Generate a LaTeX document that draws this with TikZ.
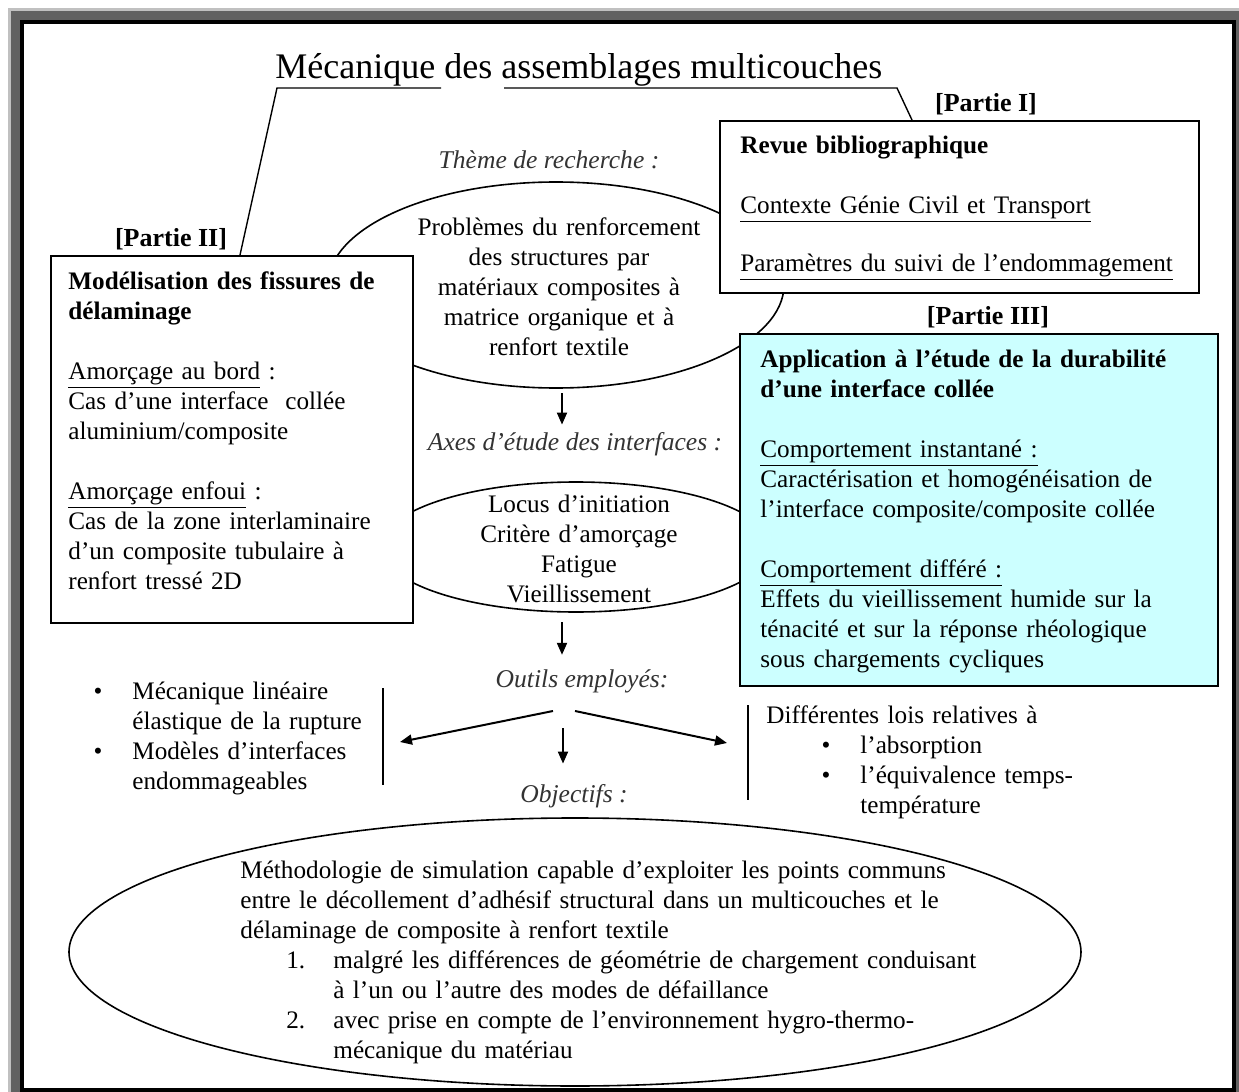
\documentclass[tikz,border=0pt]{standalone}
\usepackage{fontspec}
\setmainfont{Liberation Serif}
\usepackage{tikz}
\usetikzlibrary{positioning,shapes,arrows.meta,calc}
\definecolor{lightcyan}{RGB}{204,255,255}
\definecolor{cadregris}{RGB}{97,97,97}
\definecolor{cadreclair}{RGB}{192,192,192}
\tikzstyle{boite}=[%
      rectangle, draw=black, line width=1pt, fill=white, anchor=north west, inner sep=0pt
]
\tikzstyle{bulle}=[%
      ellipse, draw=black, line width=0.8pt, inner sep=0pt
]
\tikzstyle{bloc}=[%
      inner sep=0pt, anchor=base west, align=left, text width=250pt,
      font=\fontsize{12.6}{15}\selectfont
]
\tikzstyle{centre}=[%
      inner sep=0pt, anchor=base, align=center, text width=250pt,
      font=\fontsize{12.6}{15}\selectfont
]
\tikzstyle{theme}=[%
      inner sep=0pt, anchor=base, font=\fontsize{12.8}{15}\selectfont\itshape, text=black!80
]
\tikzstyle{partie}=[%
      inner sep=0pt, anchor=base, font=\fontsize{13}{15}\selectfont\bfseries
]
\newcommand{\puce}{\leavevmode\llap{\textbullet\hspace{15pt}}}

\begin{document}
\begin{tikzpicture}[x=0.5pt, y=-0.5pt,
    fleche/.style={line width=1pt, -{Triangle[length=6pt,width=5pt]}}
  ]
    % cadre
    \useasboundingbox (0,0) rectangle (1239,1092);
    \fill[cadreclair] (8,8) rectangle (1239,1092);
    \fill[cadregris] (11,11) rectangle (1239,1092);
    \fill[black] (20,20) rectangle (1236,1092);
    \fill[white] (24,24) rectangle (1232,1088);

    % ellipses
    \node[bulle, minimum width=228pt, minimum height=103pt] (probleme) at (556,285) {};
    \node[bulle, minimum width=195pt, minimum height=65pt] (axes) at (576,547) {};
    \node[bulle, minimum width=506pt, minimum height=134pt] (objectif) at (575,952) {};

    % boites
    \node[boite, minimum width=239.5pt, minimum height=86pt] (revue) at (719,120) {};
    \node[boite, minimum width=181pt, minimum height=183.5pt] (modele) at (50,255) {};
    \node[boite, fill=lightcyan, minimum width=239pt, minimum height=176pt] (appli) at (739,333) {};

    % titre
    \node[inner sep=0pt, anchor=base west, font=\fontsize{18}{20}\selectfont] (titre) at (275,78)
      {Mécanique des assemblages multicouches};
    \draw[line width=0.7pt] ($(titre.base west)+(166,10)$) -- ($(titre.base west)+(2,10)$)
      -- ($(modele.north west)+(190,0)$);
    \draw[line width=0.7pt] ($(titre.base west)+(229,10)$) -- ($(titre.base west)+(622,10)$)
      -- ($(revue.north west)+(193,0)$);

    \node[partie] (pI) at (986,112) {[Partie I]};
    \node[partie] (pII) at (171,246) {[Partie II]};
    \node[partie] (pIII) at (988,324) {[Partie III]};

    \node[bloc] (revuetxt) at (740,153) {\textbf{Revue bibliographique}\\[15pt]
      \underline{Contexte Génie Civil et Transport}\\[14pt]
      \underline{Paramètres du suivi de l’endommagement}};

    \node[bloc] (modeletxt) at (68,289) {\textbf{Modélisation des fissures de}\\
      \textbf{délaminage}\\[15pt]
      \underline{Amorçage au bord} :\\
      Cas d’une interface~ collée\\
      aluminium/composite\\[15pt]
      \underline{Amorçage enfoui} :\\
      Cas de la zone interlaminaire\\
      d’un composite tubulaire à\\
      renfort tressé 2D};

    \node[bloc] (applitxt) at (760,367) {\textbf{Application à l’étude de la durabilité}\\
      \textbf{d’une interface collée}\\[15pt]
      \underline{Comportement instantané :}\\
      Caractérisation et homogénéisation de\\
      l’interface composite/composite collée\\[15pt]
      \underline{Comportement différé :}\\
      Effets du vieillissement humide sur la\\
      ténacité et sur la réponse rhéologique\\
      sous chargements cycliques};

    % colonne centrale
    \node[theme] (themelbl) at (549,168) {Thème de recherche :};
    \node[centre] (problemetxt) at (559,235) {Problèmes du renforcement\\
      des structures par\\
      matériaux composites à\\
      matrice organique et à\\
      renfort textile};

    \node[theme] (axeslbl) at (575,450) {Axes d’étude des interfaces :};
    \node[centre] (axestxt) at (579,512) {Locus d’initiation\\
      Critère d’amorçage\\
      Fatigue\\
      Vieillissement};

    \node[theme] (outils) at (582,687) {Outils employés:};
    \node[theme] (objlbl) at (574,802) {Objectifs :};

    \coordinate (d1) at (562,393);
    \coordinate (d2) at (562,622);
    \coordinate (o1) at (553,711);
    \coordinate (o2) at (575,711);
    \coordinate (o3) at (563,728);
    \coordinate (gauche) at (400,742);
    \coordinate (droite) at (727,743);
    \draw[fleche, shorten >=3.5pt] (d1) -- (d1 |- axeslbl.north);
    \draw[fleche, shorten >=7pt] (d2) -- (d2 |- outils.north);
    \draw[fleche] (o1) -- (gauche);
    \draw[fleche] (o2) -- (droite);
    \draw[fleche, shorten >=10pt] (o3) -- (o3 |- objlbl.north);

    % outils
    \draw[line width=0.8pt] (383,688) -- (383,785);
    \draw[line width=0.8pt] (748,705) -- (748,800);
    \node[bloc] (mlr) at (132,699) {\puce Mécanique linéaire\\
      élastique de la rupture\\
      \puce Modèles d’interfaces\\
      endommageables};
    \node[bloc] (lois) at (766,723) {Différentes lois relatives à\\
      \hspace*{47pt}\puce l’absorption\\
      \hspace*{47pt}\puce l’équivalence temps-\\
      \hspace*{47pt}température};

    % objectifs
    \node[bloc, text width=420pt] (objtxt) at (240,878) {Méthodologie de simulation capable d’exploiter les points communs\\
      entre le décollement d’adhésif structural dans un multicouches et le\\
      délaminage de composite à renfort textile\\
      \hspace*{23pt}\makebox[23.5pt][l]{1.}malgré les différences de géométrie de chargement conduisant\\
      \hspace*{46.5pt}à l’un ou l’autre des modes de défaillance\\
      \hspace*{23pt}\makebox[23.5pt][l]{2.}avec prise en compte de l’environnement hygro-thermo-\\
      \hspace*{46.5pt}mécanique du matériau};
  \end{tikzpicture}
\end{document}
